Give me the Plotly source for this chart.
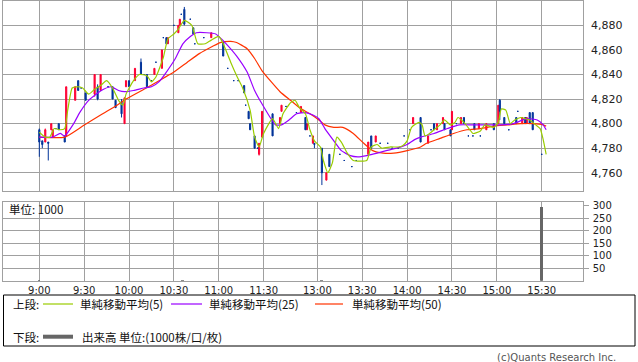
import plotly.graph_objects as go

W, H = 638, 362

# ---------------- data ----------------
tick_labels = ["9:00", "9:30", "10:00", "10:30", "11:00", "11:30",
               "13:00", "13:30", "14:00", "14:30", "15:00", "15:30"]
price_ticks = [4760, 4780, 4800, 4820, 4840, 4860, 4880]
vol_ticks = [50, 100, 150, 200, 250, 300]

times = ["9:00", "9:02", "9:04", "9:06", "9:08", "9:09", "9:11", "9:13", "9:17", "9:18",
         "9:24", "9:26", "9:28", "9:31", "9:37", "9:39", "9:41", "9:46", "9:49", "9:51",
         "9:55", "9:57", "9:58", "10:00", "10:04", "10:08", "10:10", "10:12", "10:15", "10:17",
         "10:18", "10:22", "10:23", "10:25", "10:26", "10:30", "10:33", "10:34", "10:35", "10:37",
         "10:41", "10:43", "10:44", "10:50", "10:55", "11:03", "11:06", "11:10", "11:13", "11:17",
         "11:18", "11:20", "11:21", "11:24", "11:26", "11:27", "11:29",
         "12:30", "12:35", "12:36", "12:39", "12:46", "12:49", "12:52", "12:53", "12:55", "12:57",
         "12:58", "13:03", "13:06", "13:08", "13:15", "13:18", "13:23", "13:26", "13:34", "13:36",
         "13:39", "13:42", "13:47", "13:50", "13:54", "13:58", "14:02", "14:04", "14:09", "14:14",
         "14:16", "14:18", "14:20", "14:24", "14:25", "14:29", "14:30", "14:33", "14:36", "14:38",
         "14:41", "14:44", "14:45", "14:48", "14:49", "14:53", "14:58", "15:01", "15:02", "15:05",
         "15:08", "15:13", "15:14", "15:17", "15:19", "15:20", "15:22", "15:24", "15:30"]
opens = [4795, 4786, 4785, 4785, 4795, 4789, 4796, 4800, 4790, 4790,
         4819, 4835, 4829, 4825, 4824, 4830, 4827, 4830, 4830, 4819,
         4818, 4800, 4830, 4835, 4835, 4850, 4840, 4840, 4835, 4840,
         4850, 4845, 4870, 4870, 4865, 4880, 4874, 4880, 4889, 4893,
         4885, 4878, 4865, 4870, 4870, 4866, 4845, 4835, 4835, 4831,
         4815, 4810, 4800, 4790, 4780, 4775, 4789,
         4808, 4800, 4810, 4814, 4809, 4809, 4805, 4795, 4790, 4784,
         4784, 4780, 4754, 4775, 4775, 4770, 4765, 4770, 4775, 4790,
         4785, 4784, 4784, 4780, 4780, 4790, 4795, 4800, 4805, 4784,
         4795, 4800, 4795, 4800, 4800, 4795, 4795, 4800, 4800, 4805,
         4790, 4790, 4800, 4796, 4790, 4795, 4800, 4800, 4819, 4805,
         4795, 4805, 4810, 4800, 4805, 4800, 4809, 4809, 4775]
highs = [4796, 4786, 4796, 4785, 4800, 4795, 4796, 4800, 4790, 4830,
         4830, 4835, 4829, 4825, 4840, 4832, 4840, 4830, 4830, 4819,
         4820, 4821, 4835, 4835, 4845, 4853, 4840, 4840, 4835, 4845,
         4850, 4860, 4870, 4870, 4870, 4880, 4880, 4885, 4889, 4895,
         4885, 4878, 4865, 4870, 4874, 4866, 4845, 4835, 4835, 4831,
         4815, 4810, 4800, 4790, 4780, 4784, 4810,
         4808, 4805, 4815, 4814, 4809, 4814, 4805, 4800, 4790, 4790,
         4784, 4780, 4760, 4775, 4775, 4770, 4765, 4770, 4785, 4790,
         4790, 4784, 4784, 4780, 4780, 4790, 4795, 4805, 4805, 4790,
         4795, 4800, 4800, 4805, 4800, 4795, 4810, 4800, 4805, 4805,
         4790, 4790, 4800, 4800, 4790, 4800, 4800, 4815, 4820, 4805,
         4795, 4805, 4810, 4805, 4805, 4805, 4809, 4809, 4775]
lows = [4773, 4780, 4785, 4770, 4795, 4789, 4796, 4795, 4785, 4790,
        4819, 4827, 4829, 4819, 4822, 4819, 4827, 4830, 4820, 4813,
        4805, 4800, 4830, 4830, 4835, 4840, 4840, 4830, 4835, 4840,
        4850, 4845, 4870, 4865, 4865, 4880, 4874, 4880, 4889, 4880,
        4885, 4873, 4865, 4870, 4870, 4855, 4845, 4835, 4835, 4825,
        4815, 4804, 4795, 4780, 4780, 4774, 4789,
        4790, 4800, 4810, 4814, 4809, 4809, 4795, 4795, 4790, 4784,
        4780, 4750, 4754, 4765, 4775, 4770, 4765, 4770, 4775, 4780,
        4785, 4784, 4784, 4780, 4780, 4790, 4795, 4800, 4785, 4784,
        4795, 4795, 4795, 4800, 4795, 4790, 4795, 4800, 4800, 4800,
        4790, 4790, 4795, 4796, 4790, 4795, 4795, 4800, 4803, 4800,
        4795, 4800, 4810, 4800, 4800, 4800, 4800, 4795, 4775]
closes = [4785, 4783, 4795, 4784, 4800, 4795, 4796, 4795, 4785, 4830,
          4830, 4827, 4829, 4819, 4840, 4820, 4840, 4830, 4820, 4813,
          4808, 4821, 4835, 4830, 4845, 4840, 4840, 4830, 4835, 4845,
          4850, 4860, 4870, 4865, 4870, 4880, 4880, 4885, 4889, 4881,
          4885, 4873, 4865, 4870, 4874, 4855, 4845, 4835, 4835, 4825,
          4815, 4804, 4795, 4780, 4780, 4784, 4810,
          4790, 4805, 4815, 4814, 4809, 4814, 4795, 4800, 4790, 4790,
          4783, 4760, 4760, 4765, 4775, 4770, 4765, 4770, 4785, 4780,
          4790, 4784, 4784, 4780, 4780, 4790, 4795, 4805, 4785, 4790,
          4795, 4795, 4800, 4805, 4795, 4790, 4810, 4800, 4805, 4800,
          4790, 4790, 4795, 4800, 4790, 4800, 4795, 4815, 4810, 4800,
          4795, 4800, 4810, 4805, 4800, 4805, 4800, 4795, 4775]

ma5_times = ["9:00", "9:04", "9:07", "9:10", "9:14", "9:17", "9:19", "9:22", "9:25", "9:29",
             "9:33", "9:37", "9:41", "9:45", "9:49", "9:53", "9:56", "9:58", "10:03", "10:07",
             "10:12", "10:15", "10:18", "10:23", "10:26", "10:30", "10:33", "10:37", "10:42", "10:46",
             "10:51", "10:55", "11:00", "11:03", "11:08", "11:12", "11:16", "11:21", "11:24", "11:27",
             "11:30", "12:30", "12:34", "12:37", "12:42", "12:45", "12:48", "12:52", "12:55", "12:58",
             "13:02", "13:04", "13:07", "13:10", "13:12", "13:13", "13:16", "13:20", "13:24", "13:33",
             "13:36", "13:40", "13:43", "13:49", "13:54", "13:57", "14:00", "14:03", "14:08", "14:10",
             "14:12", "14:15", "14:19", "14:22", "14:25", "14:29", "14:32", "14:34", "14:38", "14:42",
             "14:44", "14:49", "14:52", "14:58", "15:01", "15:03", "15:06", "15:09", "15:12", "15:16",
             "15:19", "15:22", "15:26", "15:29", "15:31", "15:33"]
ma5_vals = [4793, 4789, 4789, 4796, 4795, 4796, 4811, 4829, 4830, 4829,
            4824, 4828, 4831, 4835, 4829, 4819, 4815, 4824, 4835, 4840,
            4839, 4834, 4838, 4854, 4869, 4873, 4877, 4884, 4880, 4865,
            4865, 4868, 4871, 4865, 4850, 4839, 4829, 4811, 4789, 4781,
            4792, 4804, 4796, 4808, 4817, 4819, 4813, 4808, 4795, 4786,
            4781, 4770, 4760, 4768, 4784, 4789, 4785, 4776, 4770, 4770,
            4781, 4783, 4780, 4781, 4781, 4782, 4786, 4797, 4801, 4799,
            4790, 4792, 4796, 4799, 4803, 4799, 4801, 4805, 4801, 4795,
            4792, 4794, 4799, 4797, 4801, 4812, 4811, 4800, 4803, 4805,
            4804, 4803, 4799, 4796, 4787, 4775]

ma25_times = ["9:00", "9:09", "9:14", "9:17", "9:23", "9:27", "9:33", "9:38", "9:43", "9:48",
              "9:53", "9:57", "10:03", "10:10", "10:15", "10:20", "10:25", "10:31", "10:36", "10:41",
              "10:45", "10:52", "10:58", "11:00", "11:05", "11:12", "11:19", "11:24", "11:29", "12:32",
              "12:36", "12:41", "12:46", "12:52", "12:57", "13:01", "13:05", "13:11", "13:16", "13:22",
              "13:27", "13:33", "13:40", "13:46", "13:53", "14:00", "14:05", "14:09", "14:18", "14:27",
              "14:35", "14:44", "14:53", "15:02", "15:11", "15:20", "15:27", "15:31", "15:33"]
ma25_vals = [4789, 4789, 4792, 4790, 4800, 4809, 4819, 4824, 4828, 4830,
             4827, 4826, 4827, 4829, 4830, 4834, 4842, 4853, 4865, 4871,
             4874, 4874, 4873, 4871, 4865, 4855, 4842, 4827, 4816, 4799,
             4799, 4803, 4808, 4809, 4807, 4804, 4796, 4786, 4778, 4774,
             4773, 4774, 4776, 4778, 4780, 4783, 4787, 4789, 4792, 4796,
             4799, 4799, 4799, 4799, 4800, 4804, 4803, 4799, 4795]

ma50_times = ["9:00", "9:17", "9:29", "9:41", "9:52", "9:58", "10:10", "10:16", "10:23", "10:30",
              "10:39", "10:47", "10:56", "11:01", "11:08", "11:12", "11:19", "11:24", "11:29", "12:35",
              "12:42", "12:48", "12:55", "13:01", "13:05", "13:11", "13:17", "13:24", "13:31", "13:37",
              "13:44", "13:51", "14:00", "14:09", "14:13", "14:22", "14:31", "14:40", "14:49", "14:58",
              "15:07", "15:16", "15:24", "15:31", "15:33"]
ma50_vals = [4789, 4789, 4798, 4807, 4815, 4820, 4828, 4832, 4837, 4842,
             4850, 4857, 4863, 4866, 4867, 4866, 4861, 4853, 4843, 4826,
             4819, 4813, 4808, 4803, 4799, 4797, 4797, 4792, 4784, 4778,
             4776, 4776, 4778, 4781, 4784, 4788, 4792, 4795, 4796, 4798,
             4799, 4800, 4800, 4799, 4798]

vol_times = ["9:00", "10:36", "13:03", "15:30"]
vol_vals = [5, 3, 4, 296]

# ---------------- helpers ----------------
def pos(t):
    h, m = map(int, t.split(":"))
    mins = h * 60 + m
    if mins <= 11 * 60 + 30:
        return mins - 9 * 60
    return mins - (12 * 60 + 30) + 156


def pxx(v):
    return v / W


def pxy(v):
    return 1 - v / H


RED = "#ff0033"
BLUE = "#003399"
GRID = "#a0a0a0"
C5, C25, C50 = "#99cc00", "#9900ff", "#ff3300"
FONT = "DejaVu Sans"
JFONT = "Noto Sans CJK JP"

xs = [pos(t) for t in times]
up = [i for i in range(len(times)) if closes[i] > opens[i]]
dn = [i for i in range(len(times)) if closes[i] <= opens[i]]

fig = go.Figure()


def candle(idx, color):
    return go.Candlestick(
        x=[xs[i] for i in idx], open=[opens[i] for i in idx], high=[highs[i] for i in idx],
        low=[lows[i] for i in idx], close=[closes[i] for i in idx],
        increasing=dict(line=dict(color=color, width=1), fillcolor=color),
        decreasing=dict(line=dict(color=color, width=1), fillcolor=color),
        whiskerwidth=0, showlegend=False, hoverinfo="skip", xaxis="x", yaxis="y")


fig.add_trace(candle(up, RED))
fig.add_trace(candle(dn, BLUE))

for tt, vv, cc in [(ma50_times, ma50_vals, C50), (ma25_times, ma25_vals, C25), (ma5_times, ma5_vals, C5)]:
    fig.add_trace(go.Scatter(x=[pos(t) for t in tt], y=vv, mode="lines",
                             line=dict(color=cc, width=1.2, shape="spline", smoothing=0.5),
                             hoverinfo="skip", showlegend=False, xaxis="x", yaxis="y"))

fig.add_trace(go.Bar(x=[pos(t) for t in vol_times], y=vol_vals, width=1.5,
                     marker=dict(color="#666666", line=dict(width=0)),
                     hoverinfo="skip", showlegend=False, xaxis="x2", yaxis="y2"))
fig.add_trace(go.Scatter(x=[], y=[], xaxis="x2", yaxis="y3", showlegend=False))

tickpos = [pos(t) for t in tick_labels]
xr = [(3.3 - 39.3) / 1.4952, (582.7 - 39.3) / 1.4952]
xdom = [pxx(3.3), pxx(582.7)]

common_x = dict(range=xr, domain=xdom, tickmode="array", tickvals=tickpos, showgrid=True,
                gridcolor=GRID, gridwidth=1, zeroline=False, showline=True, linecolor=GRID,
                linewidth=1, mirror=True, ticks="", fixedrange=True)

fig.update_layout(
    width=W, height=H, margin=dict(l=0, r=0, t=0, b=0),
    paper_bgcolor="white", plot_bgcolor="white", showlegend=False,
    boxgap=0.25, boxgroupgap=0, bargap=0,
    font=dict(family=FONT, size=10, color="#222"),
    xaxis=dict(common_x, anchor="y", showticklabels=False, rangeslider=dict(visible=False)),
    yaxis=dict(domain=[pxy(190.7), pxy(0.8)], range=[4745.4, 4900], side="right",
               anchor="x", tickmode="array", tickvals=price_ticks, tickformat=",",
               showgrid=True, gridcolor=GRID, gridwidth=1, zeroline=False,
               showline=True, linecolor=GRID, mirror=True, ticks="",
               ticklabelstandoff=5, tickfont=dict(family=FONT, size=11, color="#222")),
    xaxis2=dict(common_x, anchor="y2", showticklabels=True, ticktext=tick_labels,
                tickfont=dict(family=FONT, size=10, color="#222")),
    yaxis2=dict(domain=[pxy(280.8), pxy(201.7)], range=[0, 316], anchor="x2",
                side="right", tickmode="array", tickvals=vol_ticks[:-1], showticklabels=False,
                showgrid=True, gridcolor=GRID, gridwidth=1, zeroline=False,
                showline=True, linecolor=GRID, mirror=True, ticks=""),
    yaxis3=dict(overlaying="y2", range=[0, 316], anchor="x2", side="right",
                tickmode="array", tickvals=vol_ticks, showgrid=False, zeroline=False,
                showline=False, ticks="outside", ticklen=5, tickcolor=GRID,
                ticklabelstandoff=2, tickfont=dict(family=FONT, size=10, color="#222")),
)

# legend box and texts
fig.add_shape(type="rect", xref="paper", yref="paper", x0=pxx(3.5), x1=pxx(635), y0=pxy(346),
              y1=pxy(295), line=dict(color="black", width=1), fillcolor="rgba(0,0,0,0)")
for x0, x1, yy, col, wd in [(43, 73, 304, C5, 1.2), (171, 202, 304, C25, 1.2),
                            (315, 343, 304, C50, 1.2), (43, 73, 336.7, "#666666", 4)]:
    fig.add_shape(type="line", xref="paper", yref="paper", x0=pxx(x0), x1=pxx(x1),
                  y0=pxy(yy), y1=pxy(yy), line=dict(color=col, width=wd))

texts = [(11, 304, "上段:"), (78, 304, "単純移動平均(5)"), (207, 304, "単純移動平均(25)"),
         (350, 304, "単純移動平均(50)"), (11, 336.7, "下段:"),
         (80, 336.7, "出来高 単位:(1000株/口/枚)"), (7, 209, "単位: 1000")]
for xx, yy, tx in texts:
    fig.add_annotation(x=pxx(xx), y=pxy(yy), xref="paper", yref="paper", text=tx,
                       showarrow=False, xanchor="left", yanchor="middle",
                       font=dict(family=JFONT, size=11.5, color="#111"))
fig.add_annotation(x=pxx(618), y=pxy(357), xref="paper", yref="paper",
                   text="(c)Quants Research Inc.", showarrow=False, xanchor="right",
                   yanchor="middle", font=dict(family=FONT, size=10, color="#555"))

fig.write_html("out.html", config={"displayModeBar": False},
               post_script="document.body.style.margin='0';")
